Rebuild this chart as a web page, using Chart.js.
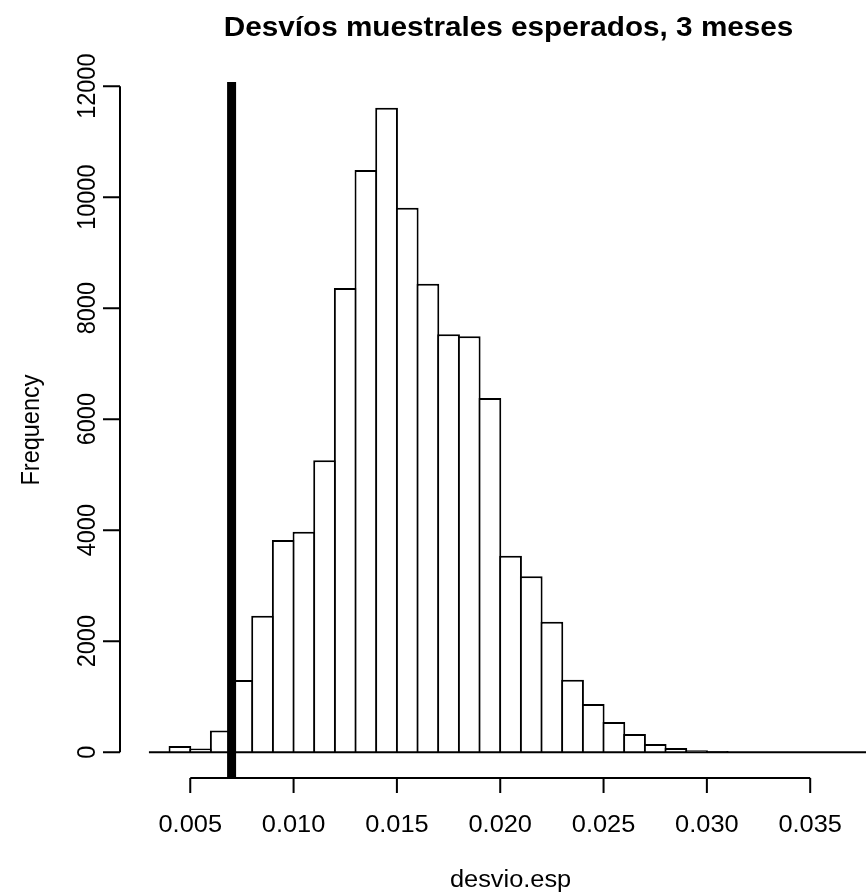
<!DOCTYPE html>
<html>
<head>
<meta charset="utf-8">
<title>Desvíos muestrales esperados, 3 meses</title>
<script src="https://cdn.jsdelivr.net/npm/chart.js@4.4.1/dist/chart.umd.min.js"></script>
<style>
    html, body { margin: 0; padding: 0; background: #fff; }
    canvas { display: block; }
</style>
</head>
<body>
<canvas id="histChart" width="866" height="894"></canvas>
<script>
// lower edge of each histogram bin (bin width 0.001)
const binStarts = [0.003, 0.004, 0.005, 0.006, 0.007, 0.008, 0.009, 0.010, 0.011, 0.012,
    0.013, 0.014, 0.015, 0.016, 0.017, 0.018, 0.019, 0.020, 0.021, 0.022,
    0.023, 0.024, 0.025, 0.026, 0.027, 0.028, 0.029, 0.030, 0.031, 0.032,
    0.033, 0.034, 0.035, 0.036, 0.037];
const binWidth = 0.001;
const frequencies = [0, 112, 68, 393, 1300, 2458, 3821, 3970, 5261, 8363,
    10488, 11610, 9810, 8441, 7532, 7494, 6380, 3538, 3172, 2350,
    1305, 868, 544, 328, 148, 76, 35, 20, 0, 0,
    0, 0, 0, 0, 0];

// observed value marked with the thick vertical line
const markedValue = 0.007;

const xTicks = [0.005, 0.010, 0.015, 0.020, 0.025, 0.030, 0.035];
const xTickLabels = ['0.005', '0.010', '0.015', '0.020', '0.025', '0.030', '0.035'];
const yTicks = [0, 2000, 4000, 6000, 8000, 10000, 12000];
const yTickLabels = ['0', '2000', '4000', '6000', '8000', '10000', '12000'];

const title = 'Desvíos muestrales esperados, 3 meses';
const xLabel = 'desvio.esp';
const yLabel = 'Frequency';

// R style plot range (range of breaks / counts plus 4%)
const xRange = [0.0016, 0.0394];
const yRange = [-465, 12075];

const barData = binStarts.map((b, i) => ({ x: b + binWidth / 2, y: frequencies[i] }));
const baseLine = [{ x: binStarts[0], y: 0 }, { x: binStarts[binStarts.length - 1] + binWidth, y: 0 }];
const markLine = [{ x: markedValue, y: yRange[0] }, { x: markedValue, y: yRange[1] }];

const fontFamily = '"Liberation Sans", Arial, Helvetica, sans-serif';
const textStretch = 1.08;   // the original png is slightly wider than tall

function drawText(ctx, text, x, y, rotated) {
    ctx.save();
    ctx.translate(x, y);
    ctx.scale(textStretch, 1);
    if (rotated) ctx.rotate(-Math.PI / 2);
    ctx.fillText(text, 0, 0);
    ctx.restore();
}

// draws axes the way base R graphics does: detached, only between first and last tick
const rAxes = {
    id: 'rAxes',
    afterDraw: function (chart) {
        const ctx = chart.ctx;
        const area = chart.chartArea;
        const xs = chart.scales.x;
        const ys = chart.scales.y;
        ctx.save();
        ctx.strokeStyle = '#000';
        ctx.fillStyle = '#000';
        ctx.lineWidth = 2;

        // x axis
        const axY = area.bottom;
        ctx.beginPath();
        ctx.moveTo(xs.getPixelForValue(xTicks[0]), axY);
        ctx.lineTo(xs.getPixelForValue(xTicks[xTicks.length - 1]), axY);
        xTicks.forEach(function (t) {
            const px = xs.getPixelForValue(t);
            ctx.moveTo(px, axY);
            ctx.lineTo(px, axY + 15);
        });
        ctx.stroke();

        ctx.font = '23.5px ' + fontFamily;
        ctx.textAlign = 'center';
        ctx.textBaseline = 'alphabetic';
        xTickLabels.forEach(function (l, i) {
            drawText(ctx, l, xs.getPixelForValue(xTicks[i]), axY + 54, false);
        });

        // y axis
        const axX = area.left;
        ctx.beginPath();
        ctx.moveTo(axX, ys.getPixelForValue(yTicks[0]));
        ctx.lineTo(axX, ys.getPixelForValue(yTicks[yTicks.length - 1]));
        yTicks.forEach(function (t) {
            const py = ys.getPixelForValue(t);
            ctx.moveTo(axX, py);
            ctx.lineTo(axX - 17, py);
        });
        ctx.stroke();

        yTickLabels.forEach(function (l, i) {
            drawText(ctx, l, axX - 25, ys.getPixelForValue(yTicks[i]), true);
        });

        // titles, centred on the R plot region
        const midX = xs.getPixelForValue((xRange[0] + xRange[1]) / 2);
        drawText(ctx, xLabel, midX, axY + 109, false);
        drawText(ctx, yLabel, axX - 81, (area.top + area.bottom) / 2, true);

        ctx.font = 'bold 27.5px ' + fontFamily;
        drawText(ctx, title, midX - 2, 36, false);
        ctx.restore();
    }
};

const ctx = document.getElementById('histChart');
const histChart = new Chart(ctx, {
    type: 'bar',
    data: {
        datasets: [{
            type: 'line',
            data: markLine,
            borderColor: '#000',
            borderWidth: 9,
            pointRadius: 0,
            borderCapStyle: 'butt',
            order: 0
        }, {
            type: 'line',
            data: baseLine,
            borderColor: '#000',
            borderWidth: 2,
            pointRadius: 0,
            order: 1
        }, {
            type: 'bar',
            data: barData,
            backgroundColor: '#fff',
            borderColor: '#000',
            borderWidth: 2,
            barPercentage: 1.1,
            categoryPercentage: 1,
            order: 2
        }]
    },
    options: {
        responsive: false,
        devicePixelRatio: 1,
        animation: false,
        layout: {
            padding: { left: 120, right: 0, top: 82, bottom: 116 }
        },
        scales: {
            x: {
                type: 'linear',
                min: xRange[0],
                max: xRange[1] - 0.0017,
                offset: false,
                display: false,
                grid: { offset: false }
            },
            y: {
                min: yRange[0],
                max: yRange[1],
                display: false
            }
        },
        plugins: {
            legend: { display: false },
            title: { display: false },
            tooltip: { enabled: false }
        }
    },
    plugins: [rAxes]
});
</script>
</body>
</html>
